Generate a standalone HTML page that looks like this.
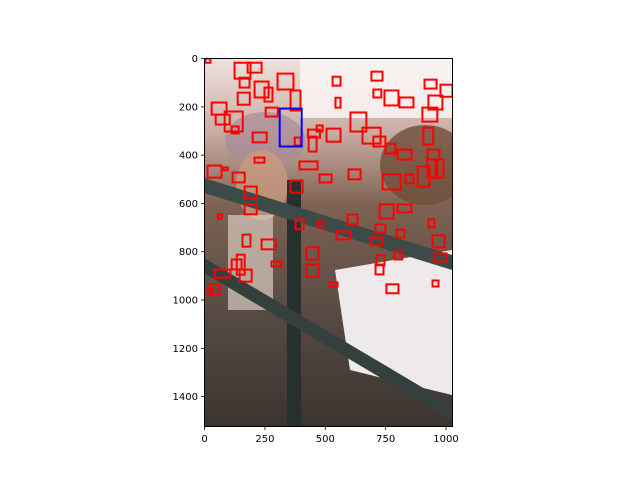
<!DOCTYPE html>
<html><head><meta charset="utf-8"><style>
html,body{margin:0;padding:0;background:#fff;}
svg{display:block;font-family:"DejaVu Sans","Liberation Sans",sans-serif;}
</style></head><body>
<svg id="chart" width="640" height="480" viewBox="0 0 640 480" xmlns="http://www.w3.org/2000/svg">
<defs>
<linearGradient id="bg" x1="0" y1="0" x2="0" y2="1">
<stop offset="0" stop-color="#efe2de"/><stop offset="0.2" stop-color="#c9ada3"/>
<stop offset="0.4" stop-color="#7d6252"/><stop offset="0.7" stop-color="#564a43"/><stop offset="1" stop-color="#3a3430"/>
</linearGradient>
<clipPath id="clip"><rect x="204.5" y="58.5" width="248" height="368"/></clipPath>
</defs>
<g id="photo" clip-path="url(#clip)">
<rect x="204.5" y="58.5" width="248" height="368" fill="url(#bg)"/>
<rect x="300" y="58" width="152" height="60" fill="#faf6f4" opacity="0.85"/>
<ellipse cx="265" cy="140" rx="40" ry="28" fill="#a88c98" opacity="0.7"/>
<ellipse cx="262" cy="185" rx="26" ry="35" fill="#c99a80" opacity="0.8"/>
<ellipse cx="425" cy="165" rx="45" ry="40" fill="#6e4e3a" opacity="0.8"/>
<path d="M335 270 L452 250 L452 395 L350 370 Z" fill="#eeeaec"/>
<rect x="228" y="215" width="45" height="95" fill="#d8ccc0" opacity="0.7"/>
<rect x="287" y="180" width="14" height="250" fill="#26302c"/>
<path d="M204 178 L452 255 L452 270 L204 193 Z" fill="#3c4a48"/>
<path d="M204 258 L452 405 L452 420 L204 273 Z" fill="#34403e"/>
</g>
<g id="boxes" clip-path="url(#clip)"></g>
<rect x="204.5" y="58.5" width="248" height="368" fill="none" stroke="#000" stroke-width="1"/>
<g id="axes"></g>
</svg>
<script>
const xTicks=[0,250,500,750,1000];
const yTicks=[0,200,400,600,800,1000,1200,1400];
const redBoxX=[3,124,178,145,207,137,302,248,356,530,691,699,745,807,911,977,29,46,83,112,253,542,464,604,428,431,505,199,207,373,654,699,749,799,902,927,906,923,956,12,116,166,393,476,596,737,832,882,923,356,79,54,166,236,377,468,546,592,687,708,725,799,795,927,944,952,133,41,21,0,112,145,277,422,422,518,712,708,753,786,944,157];
const redBoxY=[0,17,17,79,95,141,62,120,132,75,54,128,132,161,87,108,182,232,219,281,203,162,277,223,294,323,290,306,410,327,286,323,352,377,203,153,286,377,418,443,472,530,426,480,459,480,480,447,418,505,451,646,604,749,666,675,716,646,741,687,604,604,708,666,732,807,812,874,935,952,832,874,840,782,853,927,815,853,935,799,919,729];
const redBoxW=[21,66,58,41,58,50,66,33,41,33,46,33,58,58,50,50,62,58,75,29,50,21,25,66,50,33,58,58,41,25,75,50,41,58,62,58,41,50,33,58,50,50,75,50,50,75,33,50,41,50,17,17,50,58,33,25,58,41,50,41,58,58,33,25,50,50,33,66,41,33,41,50,41,50,50,33,33,33,50,33,25,33];
const redBoxH=[17,66,41,41,66,50,66,58,83,37,37,33,62,41,37,50,50,41,83,29,37,41,25,79,33,62,54,41,21,33,66,41,41,41,58,58,70,41,75,50,41,50,33,33,41,62,37,83,75,50,12,17,41,41,41,25,33,41,33,33,58,33,33,33,50,33,83,33,41,25,41,50,21,50,50,17,41,41,37,33,25,50];
const blueBox=[311,207,91,157];
const X0=204.5,Y0=58.5,S=0.2414;
const sx=v=>X0+0.5*S+v*S, sy=v=>Y0+0.5*S+v*S;
const NS="http://www.w3.org/2000/svg";
const bg=document.getElementById('boxes');
function box(x,y,w,h,c){
 const r=document.createElementNS(NS,'rect');
 r.setAttribute('x',sx(x));r.setAttribute('y',sy(y));
 r.setAttribute('width',w*S);r.setAttribute('height',h*S);
 r.setAttribute('fill','none');r.setAttribute('stroke',c);r.setAttribute('stroke-width',2);
 
 
 bg.appendChild(r);
}
for(let i=0;i<redBoxX.length;i++) box(redBoxX[i],redBoxY[i],redBoxW[i],redBoxH[i],'red');
box(blueBox[0],blueBox[1],blueBox[2],blueBox[3],'blue');
const ax=document.getElementById('axes');
function line(x1,y1,x2,y2){const l=document.createElementNS(NS,'line');
 l.setAttribute('x1',x1);l.setAttribute('y1',y1);l.setAttribute('x2',x2);l.setAttribute('y2',y2);
 l.setAttribute('stroke','#000');l.setAttribute('stroke-width',0.8);
 
 
 ax.appendChild(l);}
function text(x,y,s,anchor){const t=document.createElementNS(NS,'text');
 t.setAttribute('x',x);t.setAttribute('y',y);t.setAttribute('font-size',10);t.setAttribute('text-anchor',anchor);
 t.setAttribute('fill','#000');t.textContent=s;
 
 
 ax.appendChild(t);}
xTicks.forEach(v=>{const x=sx(v);line(x,426.5,x,430);text(x,442,String(v),'middle');});
yTicks.forEach(v=>{const y=sy(v);line(204.5,y,201,y);text(198,y+3.5,String(v),'end');});
</script>
</body></html>
